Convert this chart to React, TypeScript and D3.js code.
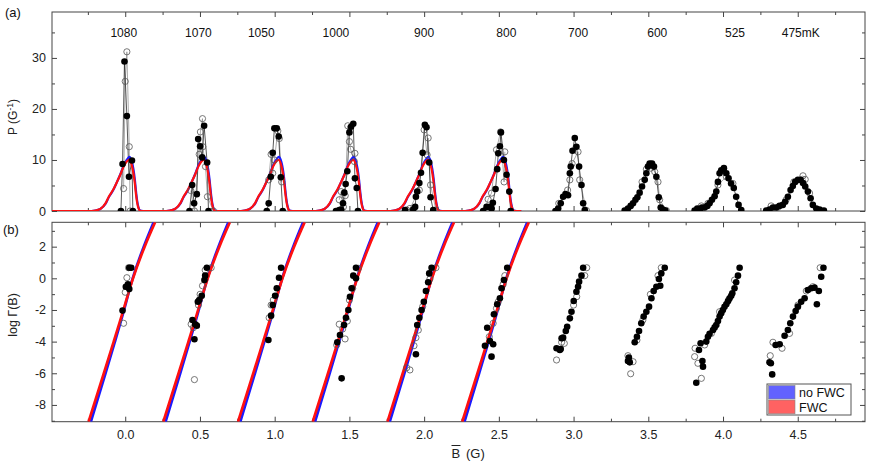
import * as d3 from 'd3';
import { useEffect, useRef } from 'react';

type Pt = [number, number];

// temperature of each trace, and where its label sits along B
const temperatures = ['1080', '1070', '1050', '1000', '900', '800', '700', '600', '525', '475mK'];
const temperatureLabelB = [-0.01, 0.49, 0.91, 1.41, 2.0, 2.55, 3.03, 3.56, 4.08, 4.52];

// axis ticks
const bMajorTicks = [0, 0.5, 1, 1.5, 2, 2.5, 3, 3.5, 4, 4.5];
const bMinorTicks = [-0.25, 0.25, 0.75, 1.25, 1.75, 2.25, 2.75, 3.25, 3.75, 4.25, 4.75];
const pMajorTicks = [0, 10, 20, 30];
const pMinorTicks = [5, 15, 25, 35];
const gMajorTicks = [-8, -6, -4, -2, 0, 2];
const gMinorTicks = [-9, -7, -5, -3, -1, 1, 3];

// (a) switching distributions P(B), [B, P] per temperature
const pFilled: Pt[][] = [
  [[-0.029, 0], [-0.018, 9.2], [-0.005, 29.3], [0.011, 18.6], [0.025, 6.7], [0.045, 9.9], [0.051, 0]],
  [[0.43, 0], [0.448, 5.1], [0.461, 1.5], [0.479, 3.3], [0.488, 14.1], [0.501, 12.7], [0.515, 10.5], [0.528, 16.7], [0.548, 9.5], [0.557, 0]],
  [[0.947, 0], [0.96, 1.5], [0.974, 6.7], [0.987, 11.4], [0.998, 16.2], [1.014, 16.2], [1.027, 14.6], [1.041, 6.6], [1.054, 0]],
  [[1.41, 0], [1.432, 0.2], [1.445, 0.3], [1.457, 1.5], [1.466, 3.6], [1.475, 5.3], [1.486, 7.8], [1.5, 15.4], [1.511, 16.5], [1.526, 17.1], [1.537, 6.4], [1.549, 4.5], [1.557, 0]],
  [[1.872, 0.2], [1.927, 0.3], [1.94, 0.8], [1.945, 2.8], [1.954, 3.8], [1.968, 5.5], [1.979, 7.5], [1.99, 11.4], [2.005, 16.9], [2.016, 16.4], [2.034, 9.5], [2.043, 2.7], [2.061, 0.2]],
  [[2.395, 0], [2.418, 0.8], [2.44, 0.8], [2.452, 0.5], [2.46, 1.6], [2.478, 4.3], [2.489, 8.2], [2.496, 11.3], [2.507, 12.7], [2.514, 15.4], [2.534, 10], [2.552, 7.1], [2.57, 3.8], [2.579, 0]],
  [[2.879, 0], [2.897, 0.5], [2.914, 1.5], [2.93, 2.8], [2.946, 3.3], [2.963, 3.1], [2.975, 7.4], [2.981, 8.7], [2.993, 11.8], [3.008, 14.3], [3.019, 12.6], [3.037, 8.7], [3.053, 5.1], [3.064, 1.5], [3.075, 0.2]],
  [[3.342, 0.1], [3.364, 0.5], [3.382, 1], [3.398, 1.5], [3.414, 2.2], [3.427, 2.7], [3.442, 3.6], [3.458, 4.8], [3.476, 6.1], [3.487, 7.4], [3.498, 8.7], [3.509, 9.3], [3.525, 9.3], [3.538, 8.7], [3.554, 6.7], [3.57, 2.7], [3.583, 0.7], [3.598, 0.3], [3.614, 0.1]],
  [[3.81, 0.1], [3.828, 0.5], [3.844, 0.2], [3.859, 0.7], [3.877, 0.7], [3.895, 1], [3.91, 1.5], [3.926, 2.2], [3.944, 2.9], [3.955, 3.8], [3.966, 5.7], [3.977, 7.4], [3.988, 8], [4.006, 8.4], [4.022, 7.4], [4.037, 6.4], [4.054, 5.4], [4.072, 4.5], [4.088, 2.8], [4.104, 1.2], [4.122, 0.2]],
  [[4.289, 0.1], [4.311, 0.3], [4.334, 0.7], [4.356, 0.7], [4.378, 1], [4.4, 1.2], [4.416, 1.8], [4.434, 2.8], [4.452, 4.1], [4.467, 4.9], [4.483, 5.7], [4.501, 6.1], [4.519, 6.1], [4.535, 5.5], [4.55, 4.8], [4.568, 3.8], [4.586, 2.5], [4.601, 1.2], [4.624, 0.5], [4.646, 0.3], [4.675, 0.1]],
];
const pOpen: Pt[][] = [
  [[-0.011, 4.4], [0, 25.4], [0.011, 31.2], [0.027, 12.6], [0.033, 0]],
  [[0.439, 4.0], [0.463, 0], [0.495, 11.1], [0.503, 15.5], [0.517, 18.1], [0.519, 12.6], [0.537, 8.7], [0.55, 2.8], [0.59, 0]],
  [[0.96, 6.1], [0.976, 11.1], [0.987, 7.4], [0.998, 10], [1.021, 15.7], [1.031, 14.2], [1.047, 5.7]],
  [[1.432, 2.2], [1.445, 3.8], [1.46, 0.8], [1.472, 3.0], [1.489, 16.7], [1.5, 13.6], [1.508, 12.1], [1.533, 9.7], [1.537, 11.3]],
  [[1.883, 0.2], [1.905, 0.5], [1.968, 4.1], [2.0, 15.9], [2.02, 11], [2.027, 14.3], [2.043, 5.1], [2.079, 0.2]],
  [[2.41, 0.2], [2.428, 2.3], [2.451, 3.5], [2.484, 12], [2.511, 15.5], [2.535, 5.7], [2.54, 11.6]],
  [[2.901, 1.5], [2.96, 4.1], [2.975, 6.1], [2.99, 9.3], [3.03, 11.6], [3.041, 6.1], [3.086, 0.1]],
  [[3.458, 5.7], [3.487, 8.2], [3.516, 8.4], [3.543, 7.7], [3.565, 5.7], [3.576, 2.2], [3.621, 0.1]],
  [[3.855, 1], [3.899, 1.5], [3.966, 5.1], [4.022, 6.7], [4.066, 5.4]],
  [[4.322, 1], [4.366, 0.7], [4.422, 2.2], [4.474, 5.7], [4.535, 6.9], [4.55, 6.2], [4.579, 3.5]],
];

// model curves for the six hottest traces, offset from each nominal B
const fitCenters = [0, 0.5, 1.0, 1.5, 2.0, 2.5];
const pFitOffset = [-0.25, -0.2, -0.167, -0.13, -0.11, -0.08, -0.055, -0.03, -0.011, 0.01, 0.027, 0.045, 0.055, 0.065, 0.071, 0.08, 0.088, 0.1, 0.12];
const pFitBlue = [0, 0.1, 0.4, 1.5, 2.7, 4.1, 5.7, 7.4, 8.9, 10.0, 10.6, 9.6, 8.2, 6.0, 4.2, 2.0, 0.8, 0.1, 0];
const pFitRed = [0, 0.1, 0.4, 1.6, 2.8, 4.2, 5.7, 7.3, 8.7, 9.7, 10.0, 8.8, 7.4, 5.2, 3.5, 1.6, 0.6, 0.05, 0];

const gFitLog = [-9.06, -6, -4, -2, 0, 2, 3.54];
const gFitBlueOffset = [-0.23, -0.132, -0.069, -0.008, 0.05, 0.124, 0.19];
const gFitRedOffset = [-0.245, -0.143, -0.077, -0.012, 0.052, 0.13, 0.2];

// (b) escape rates log Γ(B), [B, log Γ]
const gFilled: Pt[][] = [
  [[0.04, 0.67], [0.027, 0.67], [0.004, -0.53], [0.018, -0.38], [0.027, -0.68], [-0.018, -2.04]],
  [[0.546, 0.67], [0.53, -0.11], [0.535, 0.17], [0.512, -1.1], [0.495, -1.37], [0.486, -1.48], [0.45, -2.63], [0.479, -2.99], [0.468, -2.9], [0.463, -3.85]],
  [[1.043, 0.67], [1.029, 0.04], [1.014, -0.63], [1.003, -1.1], [0.987, -1.69], [0.976, -2.36], [0.958, -3.9]],
  [[1.544, 0.67], [1.526, 0.17], [1.544, 0], [1.515, -0.63], [1.504, -1.16], [1.493, -2.0], [1.477, -2.49], [1.464, -2.95], [1.437, -3.58], [1.419, -4.04], [1.448, -6.32]],
  [[2.05, 0.67], [2.034, 0.31], [2.027, -0.25], [2.012, -0.8], [1.998, -1.48], [1.983, -2.0], [1.968, -2.49], [1.954, -2.95], [1.945, -4.8]],
  [[2.556, 0.67], [2.534, -0.11], [2.518, -0.63], [2.507, -1.26], [2.489, -1.64], [2.467, -2.27], [2.422, -3.12], [2.44, -3.96], [2.407, -4.26], [2.462, -4.17], [2.451, -4.95]],
  [[3.064, 0.67], [3.053, 0.17], [3.037, -0.21], [3.03, -0.53], [3.019, -0.85], [3.001, -1.43], [2.986, -2.11], [2.975, -2.53], [2.957, -3.06], [2.948, -3.33], [2.93, -3.75], [2.92, -3.79], [2.914, -4.47], [2.908, -4.53], [2.886, -4.42]],
  [[3.61, 0.67], [3.587, 0.31], [3.571, -0.04], [3.58, -0.47], [3.554, -0.53], [3.536, -0.8], [3.521, -1.26], [3.505, -1.79], [3.487, -2.11], [3.469, -2.42], [3.453, -2.84], [3.438, -3.33], [3.424, -3.69], [3.409, -4.04], [3.364, -5.22], [3.376, -5.31], [3.37, -5.0]],
  [[4.111, 0.67], [4.1, 0.17], [4.088, -0.25], [4.077, -0.63], [4.062, -0.95], [4.055, -1.1], [4.044, -1.26], [4.033, -1.45], [4.022, -1.64], [4.01, -1.8], [3.999, -2.0], [3.988, -2.2], [3.977, -2.42], [3.966, -2.7], [3.955, -2.95], [3.944, -3.1], [3.933, -3.27], [3.91, -3.5], [3.899, -3.69], [3.888, -4.0], [3.85, -4.1], [3.839, -4.53], [3.862, -5.22], [3.866, -5.58], [3.821, -6.6]],
  [[4.672, 0.67], [4.657, 0.1], [4.641, -0.8], [4.628, -1.64], [4.612, -0.59], [4.59, -0.63], [4.568, -0.74], [4.546, -1.26], [4.523, -1.48], [4.501, -1.79], [4.486, -2.07], [4.468, -2.42], [4.45, -2.84], [4.434, -3.27], [4.412, -3.63], [4.379, -4.17], [4.352, -4.21], [4.311, -5.31], [4.329, -6.07], [4.32, -5.37]],
];
const gOpen: Pt[][] = [
  [[0.022, 0.67], [0.011, 0.04], [0, -0.88], [-0.011, -2.84]],
  [[0.575, 0.67], [0.535, 0.52], [0.517, -0.47], [0.501, -1.01], [0.49, -1.69], [0.441, -2.9], [0.456, -3.12], [0.463, -6.4]],
  [[0.991, -1.37], [0.976, -1.69], [0.963, -2.49]],
  [[1.56, 0.63], [1.522, -0.63], [1.5, -1.37], [1.486, -2.7], [1.432, -2.9], [1.455, -3.2], [1.471, -3.83], [1.415, -4.21]],
  [[2.079, 0.67], [2.039, -0.04], [1.99, -1.79], [1.961, -3.27], [1.945, -3.75], [1.932, -4.26], [1.883, -5.65], [1.905, -5.79]],
  [[2.54, 0.17], [2.529, -0.38], [2.496, -1.48], [2.484, -1.9], [2.462, -2.84], [2.436, -3.69]],
  [[3.088, 0.67], [3.075, 0.17], [3.021, -1.16], [3.0, -1.69], [2.938, -4.11], [2.92, -4.04], [2.886, -5.16]],
  [[3.587, 0.67], [3.565, 0.17], [3.514, -1.01], [3.464, -2.63], [3.424, -3.9], [3.364, -4.89], [3.398, -5.27], [3.382, -6.03]],
  [[4.077, -0.11], [4.037, -1.37], [3.977, -2.11], [3.922, -3.48], [3.877, -4.21], [3.813, -4.42], [3.81, -4.95], [3.832, -5.37], [3.855, -6.32]],
  [[4.65, 0.67], [4.601, -0.53], [4.557, -0.8], [4.501, -1.69], [4.445, -3.48], [4.395, -4.42], [4.334, -4.04], [4.316, -4.89]],
];

const FONT = '"Liberation Sans", Arial, sans-serif';
const AXIS = '#444';

export default function App() {
  const svgRef = useRef<SVGSVGElement | null>(null);

  useEffect(() => {
    if (!svgRef.current) return;
    const svg = d3.select(svgRef.current);
    svg.selectAll('*').remove();

    const left = 52;
    const right = 865;
    const topA = 12;
    const botA = 211;
    const topB = 222.3;
    const botB = 421.7;

    const x = d3.scaleLinear().domain([-0.49, 4.95]).range([left, right]);
    const yP = d3.scaleLinear().domain([0, 39]).range([botA, topA]);
    const yG = d3.scaleLinear().domain([-9.06, 3.54]).range([botB, topB]);

    const defs = svg.append('defs');
    defs.append('clipPath').attr('id', 'clipA').append('rect')
      .attr('x', left).attr('y', topA).attr('width', right - left).attr('height', botA - topA);
    defs.append('clipPath').attr('id', 'clipB').append('rect')
      .attr('x', left).attr('y', topB).attr('width', right - left).attr('height', botB - topB);

    const styleAxis = (g: d3.Selection<SVGGElement, unknown, null, undefined>) => {
      g.select('.domain').remove();
      g.selectAll('line').attr('stroke', AXIS).attr('stroke-width', 1);
      g.selectAll('text').attr('font-family', FONT).attr('font-size', 12.5).attr('fill', '#222');
    };

    const drawAxes = (
      y: d3.ScaleLinear<number, number>,
      yMajor: number[],
      yMinor: number[],
      top: number,
      bottom: number,
      xLabels: boolean,
    ) => {
      const g = svg.append('g');
      const blank = () => '';
      g.append('g').attr('transform', `translate(0,${bottom})`)
        .call(d3.axisBottom(x).tickValues(bMajorTicks).tickSize(-5).tickPadding(8)
          .tickFormat(xLabels ? (d) => d3.format('.1f')(d as number) : blank))
        .call(styleAxis);
      g.append('g').attr('transform', `translate(0,${bottom})`)
        .call(d3.axisBottom(x).tickValues(bMinorTicks).tickSize(-3).tickFormat(blank)).call(styleAxis);
      g.append('g').attr('transform', `translate(0,${top})`)
        .call(d3.axisTop(x).tickValues(bMajorTicks).tickSize(-5).tickFormat(blank)).call(styleAxis);
      g.append('g').attr('transform', `translate(0,${top})`)
        .call(d3.axisTop(x).tickValues(bMinorTicks).tickSize(-3).tickFormat(blank)).call(styleAxis);
      g.append('g').attr('transform', `translate(${left},0)`)
        .call(d3.axisLeft(y).tickValues(yMajor).tickSize(-5).tickPadding(6).tickFormat((d) => `${d}`))
        .call(styleAxis);
      g.append('g').attr('transform', `translate(${left},0)`)
        .call(d3.axisLeft(y).tickValues(yMinor).tickSize(-3).tickFormat(blank)).call(styleAxis);
      g.append('g').attr('transform', `translate(${right},0)`)
        .call(d3.axisRight(y).tickValues(yMajor).tickSize(-5).tickFormat(blank)).call(styleAxis);
      g.append('g').attr('transform', `translate(${right},0)`)
        .call(d3.axisRight(y).tickValues(yMinor).tickSize(-3).tickFormat(blank)).call(styleAxis);
      g.append('rect')
        .attr('x', left).attr('y', top).attr('width', right - left).attr('height', bottom - top)
        .attr('fill', 'none').attr('stroke', AXIS).attr('stroke-width', 1);
    };

    drawAxes(yP, pMajorTicks, pMinorTicks, topA, botA, false);
    drawAxes(yG, gMajorTicks, gMinorTicks, topB, botB, true);

    // ---- panel (a)
    const a = svg.append('g').attr('clip-path', 'url(#clipA)');
    const lineP = d3.line<Pt>().x((d) => x(d[0])).y((d) => yP(d[1]));

    const fitPath = (vals: number[]): Pt[] => {
      const pts: Pt[] = [[-0.49, 0]];
      fitCenters.forEach((c) => pFitOffset.forEach((o, i) => pts.push([c + o, vals[i]])));
      pts.push([2.65, 0]);
      return pts;
    };
    const fitLineP = d3.line<Pt>().x((d) => x(d[0])).y((d) => yP(d[1])).curve(d3.curveMonotoneX);

    pOpen.forEach((s) => {
      const sorted = [...s].sort((p, q) => p[0] - q[0]);
      a.append('path').attr('d', lineP(sorted)).attr('fill', 'none').attr('stroke', '#888').attr('stroke-width', 0.7);
    });
    pFilled.forEach((s) => {
      a.append('path').attr('d', lineP(s)).attr('fill', 'none').attr('stroke', '#111').attr('stroke-width', 0.7);
    });
    a.append('path').attr('d', fitLineP(fitPath(pFitBlue))).attr('fill', 'none').attr('stroke', '#1a1aff').attr('stroke-width', 2.2);
    a.append('path').attr('d', fitLineP(fitPath(pFitRed))).attr('fill', 'none').attr('stroke', '#ff1010').attr('stroke-width', 2.2);

    pOpen.flat().forEach((d) => {
      a.append('circle').attr('cx', x(d[0])).attr('cy', yP(d[1])).attr('r', 3.1)
        .attr('fill', 'none').attr('stroke', '#555').attr('stroke-width', 0.8);
    });
    pFilled.flat().forEach((d) => {
      a.append('circle').attr('cx', x(d[0])).attr('cy', yP(d[1])).attr('r', 3.3).attr('fill', '#000');
    });

    temperatures.forEach((t, i) => {
      svg.append('text').attr('x', x(temperatureLabelB[i])).attr('y', 36.5)
        .attr('text-anchor', 'middle').attr('font-family', FONT).attr('font-size', 12).attr('fill', '#111')
        .text(t);
    });

    // ---- panel (b)
    const b = svg.append('g').attr('clip-path', 'url(#clipB)');
    const fitLineG = d3.line<Pt>().x((d) => x(d[0])).y((d) => yG(d[1])).curve(d3.curveNatural);
    fitCenters.forEach((c) => {
      b.append('path').attr('d', fitLineG(gFitLog.map((v, i) => [c + gFitBlueOffset[i], v] as Pt)))
        .attr('fill', 'none').attr('stroke', '#1a1aff').attr('stroke-width', 2.7);
    });
    fitCenters.forEach((c) => {
      b.append('path').attr('d', fitLineG(gFitLog.map((v, i) => [c + gFitRedOffset[i], v] as Pt)))
        .attr('fill', 'none').attr('stroke', '#ff1010').attr('stroke-width', 2.7);
    });
    gOpen.flat().forEach((d) => {
      b.append('circle').attr('cx', x(d[0])).attr('cy', yG(d[1])).attr('r', 3.1)
        .attr('fill', 'none').attr('stroke', '#555').attr('stroke-width', 0.8);
    });
    gFilled.flat().forEach((d) => {
      b.append('circle').attr('cx', x(d[0])).attr('cy', yG(d[1])).attr('r', 3.3).attr('fill', '#000');
    });

    // legend
    const lg = svg.append('g');
    lg.append('rect').attr('x', 767).attr('y', 384).attr('width', 84).attr('height', 31)
      .attr('fill', '#fff').attr('stroke', '#555').attr('stroke-width', 1);
    lg.append('rect').attr('x', 768.5).attr('y', 385.5).attr('width', 26.5).attr('height', 13.5)
      .attr('fill', '#6262ff').attr('stroke', '#888').attr('stroke-width', 0.6);
    lg.append('rect').attr('x', 768.5).attr('y', 400).attr('width', 26.5).attr('height', 13.8)
      .attr('fill', '#ff6262').attr('stroke', '#888').attr('stroke-width', 0.6);
    lg.append('text').attr('x', 799).attr('y', 396.8).attr('font-family', FONT).attr('font-size', 12.5).attr('fill', '#111').text('no FWC');
    lg.append('text').attr('x', 799).attr('y', 411.8).attr('font-family', FONT).attr('font-size', 12.5).attr('fill', '#111').text('FWC');

    // titles
    svg.append('text').attr('x', 5).attr('y', 16.5).attr('font-family', FONT).attr('font-size', 13).attr('fill', '#111').text('(a)');
    svg.append('text').attr('x', 3).attr('y', 233.5).attr('font-family', FONT).attr('font-size', 13).attr('fill', '#111').text('(b)');

    const pt = svg.append('text').attr('transform', 'translate(17,117) rotate(-90)')
      .attr('text-anchor', 'middle').attr('font-family', FONT).attr('font-size', 12).attr('fill', '#222');
    pt.append('tspan').text('P (G');
    pt.append('tspan').attr('dy', -4).attr('font-size', 8.5).text('-1');
    pt.append('tspan').attr('dy', 4).text(')');

    svg.append('text').attr('transform', 'translate(17,315) rotate(-90)')
      .attr('text-anchor', 'middle').attr('font-family', FONT).attr('font-size', 12.5).attr('fill', '#222')
      .text('log \u0393(B)');

    svg.append('text').attr('x', 451.5).attr('y', 458).attr('font-family', FONT).attr('font-size', 13).attr('fill', '#222').text('B');
    svg.append('line').attr('x1', 451.5).attr('x2', 460.5).attr('y1', 445.5).attr('y2', 445.5).attr('stroke', '#222').attr('stroke-width', 1);
    svg.append('text').attr('x', 466).attr('y', 458).attr('font-family', FONT).attr('font-size', 13).attr('fill', '#222').text('(G)');
  }, []);

  return (
    <div style={{ position: 'absolute', left: 0, top: 0, background: '#fff' }}>
      <svg ref={svgRef} width={872} height={464} style={{ display: 'block' }} />
    </div>
  );
}
